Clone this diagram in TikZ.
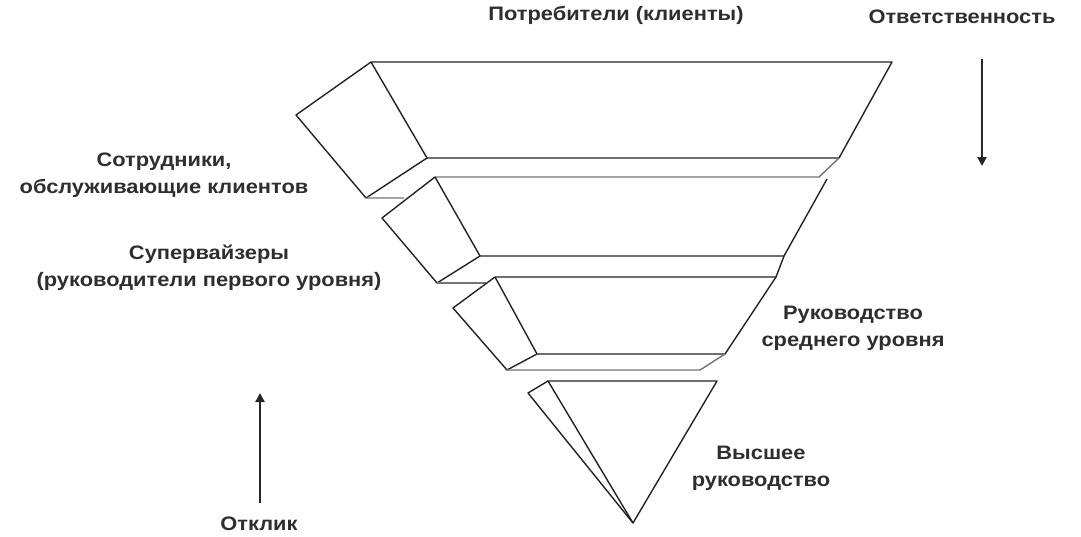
\documentclass[tikz,border=0pt]{standalone}
\usepackage{fontspec}
\setmainfont{Liberation Sans}
\newfontfamily\widesans[FakeStretch=1.12]{Liberation Sans}
\usepackage{xcolor}
\usepackage{tikz}
\usetikzlibrary{arrows.meta}
\definecolor{EdgeGray}{RGB}{35,35,35}
\definecolor{LedgeGray}{RGB}{115,115,115}

\begin{document}
\begin{tikzpicture}[x=1pt,y=-1pt,line join=round,
  face/.style={draw=EdgeGray,line width=1.4pt},
  ledge/.style={draw=LedgeGray,line width=1.4pt},
  lbl/.style={font=\widesans\bfseries\fontsize{19.5}{27}\selectfont,text=black!82,align=center,inner sep=0pt},
  flow/.style={-{Triangle[length=9pt,width=9pt]},line width=2.8pt,black!85}]
\useasboundingbox (0,0) rectangle (1081,536);
% top layer
\coordinate (aTL) at (371,62);  \coordinate (aTR) at (892,62);
\coordinate (aBR) at (839,158); \coordinate (aBL) at (427,158);
\coordinate (aSL) at (296,115); \coordinate (aSB) at (366,198);
\coordinate (aLE) at (404,198); \coordinate (aLR) at (819,177);
% second layer
\coordinate (bTL) at (435,177); \coordinate (bTR) at (827,179);
\coordinate (bBR) at (784,256); \coordinate (bBL) at (480,256);
\coordinate (bSL) at (382,218); \coordinate (bSB) at (437,283);
\coordinate (bLE) at (486,283); \coordinate (bLR) at (776,277);
% third layer
\coordinate (cTL) at (495,277); \coordinate (cTR) at (776,277);
\coordinate (cBR) at (725,354); \coordinate (cBL) at (537,354);
\coordinate (cSL) at (453,308); \coordinate (cSB) at (507,370);
\coordinate (cLR) at (700,370);
% bottom tip
\coordinate (dTL) at (548,381); \coordinate (dTR) at (717,381);
\coordinate (dSL) at (528,393); \coordinate (dAp) at (633,523);

\draw[face] (aTL)--(aTR)--(aBR)--(aBL)--cycle;
\draw[face] (aTL)--(aSL)--(aSB)--(aBL);
\draw[ledge] (aSB)--(aLE) (bTL)--(aLR)--(aBR);

\draw[face] (bTL)--(bSL)--(bSB)--(bBL)--(bBR)--(bTR);
\draw[face] (bTL)--(bBL);
\draw[ledge] (bSB)--(bLE);
\draw[face] (cTL)--(bLR)--(bBR);

\draw[face] (cTL)--(cSL)--(cSB)--(cBL)--(cBR)--(cTR);
\draw[face] (cTL)--(cBL);
\draw[ledge] (cSB)--(cLR)--(cBR);

\draw[face] (dTL)--(dTR)--(dAp)--cycle;
\draw[face] (dTL)--(dSL)--(dAp);

% labels
\node[lbl] (consumers) at (616,15) {Потребители (клиенты)};
\node[lbl] (responsib) at (962,17) {Ответственность};
\node[lbl] (frontline) at (164,175) {Сотрудники,\\обслуживающие клиентов};
\node[lbl] (supervis) at (209,268) {Супервайзеры\\(руководители первого уровня)};
\node[lbl] (middle) at (853,328) {Руководство\\среднего уровня};
\node[lbl] (top) at (761,468) {Высшее\\руководство};
\node[lbl] (feedback) at (259,524) {Отклик};

% arrows
\coordinate (respA) at (982,59);  \coordinate (respB) at (982,166);
\coordinate (backA) at (260,503); \coordinate (backB) at (260,393);
\draw[flow] (respA)--(respB);
\draw[flow] (backA)--(backB);
\end{tikzpicture}
\end{document}
